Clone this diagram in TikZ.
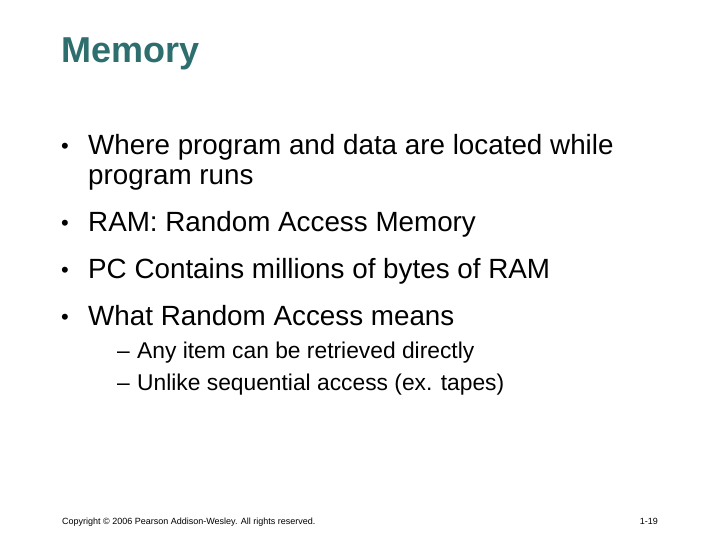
\documentclass[tikz,border=0pt]{standalone}
\usepackage{fontspec}
\setmainfont{Liberation Sans}
\begin{document}
\begin{tikzpicture}[x=1pt,y=-1pt,
  tl/.style={anchor=base west,inner sep=0pt,font=\fontsize{27.8}{32}\selectfont},
  bl/.style={anchor=base west,inner sep=0pt,font=\fontsize{22}{26}\selectfont},
  sl/.style={anchor=base west,inner sep=0pt,font=\fontsize{22.8}{26}\selectfont},
  ft/.style={anchor=base west,inner sep=0pt,font=\fontsize{9}{10}\selectfont}]
\useasboundingbox[fill=white] (0,0) rectangle (720,540);
\definecolor{teal1}{HTML}{2E6E6E}
\node[anchor=base west,inner sep=0pt,font=\fontsize{36}{42}\selectfont\bfseries,text=teal1] (title) at (61,63) {Memory};
\node[bl] (b1) at (61,154) {•};
\node[tl] (t1) at (88,155) {Where program and data are located while};
\node[tl] (t1b) at (88,185) {program runs};
\node[bl] (b2) at (61,230) {•};
\node[tl] (t2) at (88,231) {RAM: Random Access Memory};
\node[bl] (b3) at (61,277) {•};
\node[tl] (t3) at (88,278) {PC Contains millions of bytes of RAM};
\node[bl] (b4) at (61,324) {•};
\node[tl] (t4) at (88,325) {What Random Access means};
\node[sl] (d1) at (117,358) {–};
\node[sl] (s1) at (137,358) {Any item can be retrieved directly};
\node[sl] (d2) at (117,390) {–};
\node[sl] (s2) at (137,390) {Unlike sequential access (ex. tapes)};
\node[ft] (copy) at (62,524) {Copyright © 2006 Pearson Addison-Wesley. All rights reserved.};
\node[ft,anchor=base east] (pg) at (658,524) {1-19};
\end{tikzpicture}
\end{document}
